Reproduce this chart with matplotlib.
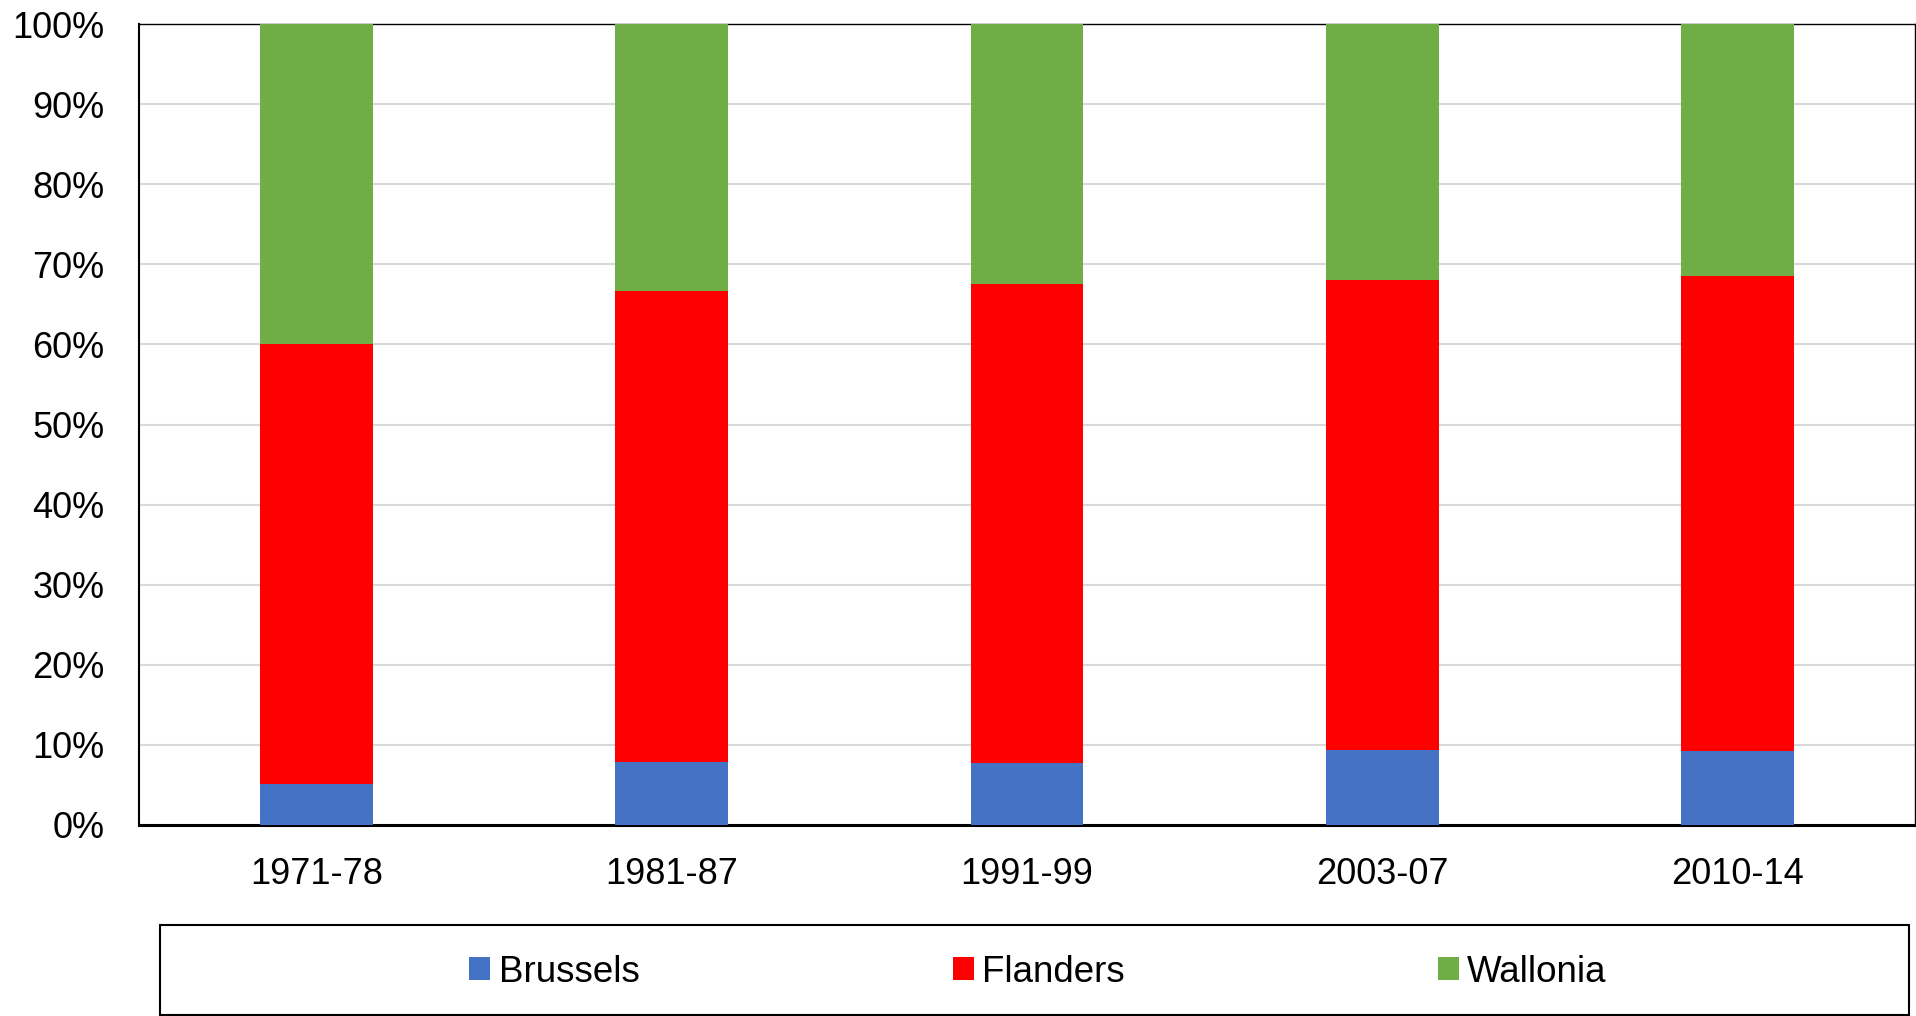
import matplotlib
matplotlib.use("Agg")
import matplotlib.pyplot as plt
from matplotlib.patches import Rectangle
from matplotlib.ticker import PercentFormatter
import numpy as np

plt.rcParams['font.family'] = ['Liberation Sans', 'DejaVu Sans']

periods = ["1971-78", "1981-87", "1991-99", "2003-07", "2010-14"]
brussels = [5.1, 7.9, 7.7, 9.4, 9.2]
flanders_top = [60.1, 66.7, 67.5, 68.1, 68.5]
flanders = [f - b for f, b in zip(flanders_top, brussels)]
wallonia = [100 - f for f in flanders_top]

colors = {"Brussels": "#4472C4", "Flanders": "#FF0000", "Wallonia": "#70AD47"}

W, H = 1916, 1016
fig = plt.figure(figsize=(W / 100, H / 100), dpi=100)
ax = fig.add_axes([139 / W, (H - 825) / H, (1915 - 139) / W, (825 - 24) / H])

x = np.arange(len(periods))
bw = 0.318
b1 = ax.bar(x, brussels, bw, color=colors["Brussels"], label="Brussels", zorder=3)
b2 = ax.bar(x, flanders, bw, bottom=brussels, color=colors["Flanders"], label="Flanders", zorder=3)
b3 = ax.bar(x, wallonia, bw, bottom=flanders_top, color=colors["Wallonia"], label="Wallonia", zorder=3)

ax.set_xlim(-0.5, len(periods) - 0.5)
ax.set_ylim(0, 100)
ax.set_yticks(np.arange(0, 101, 10))
ax.yaxis.set_major_formatter(PercentFormatter(decimals=0))
ax.set_xticks(x)
ax.set_xticklabels(periods)
ax.tick_params(axis='both', length=0, labelsize=26)
ax.tick_params(axis='y', pad=25)
ax.tick_params(axis='x', pad=23)
ax.grid(axis='y', color='#d9d9d9', linewidth=1.5, zorder=0)
for s in ['top', 'right']:
    ax.spines[s].set_color('black')
    ax.spines[s].set_linewidth(1.0)
ax.spines['left'].set_linewidth(1.5)
ax.spines['bottom'].set_linewidth(2.2)

# legend box
rect = Rectangle((160 / W, 1 / H), (1909 - 160) / W, (1016 - 925 - 1) / H,
                 transform=fig.transFigure, fill=False, edgecolor='black', linewidth=1.5)
fig.patches.append(rect)

fig.legend(handles=[b1, b2, b3], labels=["Brussels", "Flanders", "Wallonia"],
           loc='center', bbox_to_anchor=(1038 / W, 44 / H), ncol=3, frameon=False,
           fontsize=26.5, handlelength=0.57, handleheight=0.59, handletextpad=0.23,
           columnspacing=8.5, borderpad=0)

fig.savefig("out.png", dpi=100)
